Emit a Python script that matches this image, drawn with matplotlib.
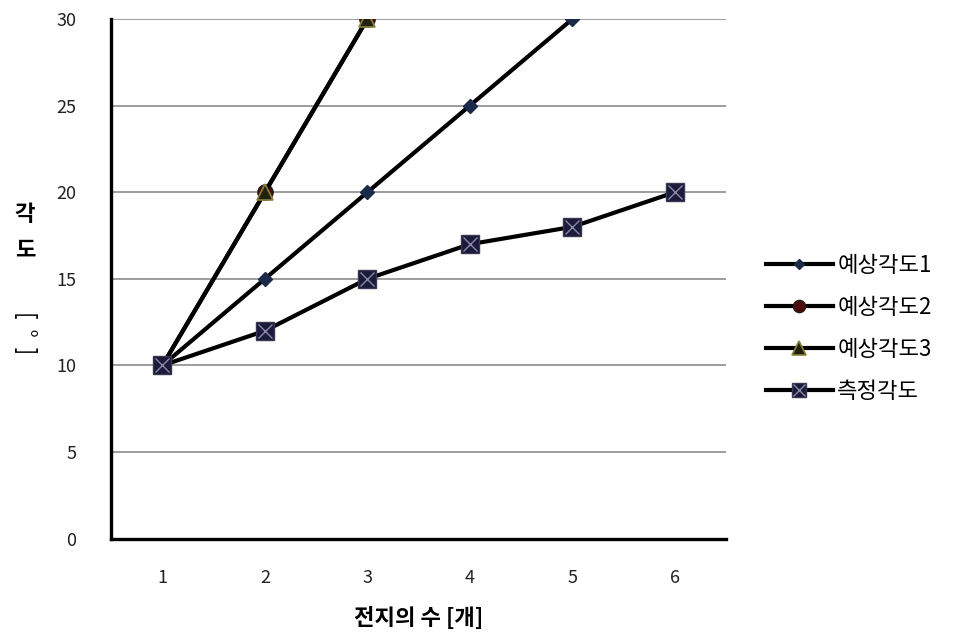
import numpy as np
import matplotlib.pyplot as plt
from matplotlib.legend_handler import HandlerTuple

plt.rcParams['font.family'] = ['Noto Sans CJK KR', 'DejaVu Sans']

# data
cells = [1, 2, 3, 4, 5, 6]
angle1 = [10, 15, 20, 25, 30]
angle2 = [10, 20, 30]
angle3 = [10, 20, 30]
measured = [10, 12, 15, 17, 18, 20]
names = ['예상각도1', '예상각도2', '예상각도3', '측정각도']

fig = plt.figure(figsize=(9.58, 6.33), dpi=100)
ax = fig.add_axes([0.116, 0.149, 0.642, 0.821])

x = np.arange(len(cells))
l1, = ax.plot(x[:len(angle1)], angle1, color='black', lw=3, marker='D', ms=7,
              mfc='#1c2a4a', mec='#1c2a4a', zorder=3)
l2, = ax.plot(x[:len(angle2)], angle2, color='black', lw=3, marker='o', ms=11,
              mfc='#4a0c0c', mec='#2a1a10', zorder=3)
l3, = ax.plot(x[:len(angle3)], angle3, color='black', lw=3, marker='^', ms=12,
              mfc='#22220c', mec='#8a8040', mew=1.2, zorder=4)
l4, = ax.plot(x, measured, color='black', lw=3, marker='s', ms=13,
              mfc='#1c1a3a', mec='#3a3850', zorder=5)
l4x, = ax.plot(x, measured, ls='none', marker='x', ms=10, mec='#8a88a8',
               mew=1, zorder=6)

ax.set_xlim(-0.5, len(cells) - 0.5)
ax.set_ylim(0, 30)
ax.set_yticks(np.arange(0, 31, 5))
ax.set_xticks(x)
ax.set_xticklabels([str(c) for c in cells])
ax.tick_params(axis='both', labelsize=13, length=0, labelcolor='#222222')
ax.tick_params(axis='x', pad=22)
ax.tick_params(axis='y', pad=25)
ax.yaxis.grid(True, color='#8c8c8c', lw=1.2)
ax.set_axisbelow(True)
for s in ['top', 'right']:
    ax.spines[s].set_visible(False)
for s in ['left', 'bottom']:
    ax.spines[s].set_linewidth(2.4)
    ax.spines[s].set_color('black')

ax.set_xlabel('전지의 수 [개]', fontsize=16, fontweight='bold', labelpad=14)

# vertical y label
fig.text(25 / 958, 1 - 215 / 633, '각', fontsize=16, fontweight='bold', ha='center', va='center')
fig.text(25 / 958, 1 - 250 / 633, '도', fontsize=16, fontweight='bold', ha='center', va='center')
fig.text(25 / 958, 1 - 333 / 633, '[  °  ]', fontsize=16, rotation=-90, ha='center', va='center')

ax.legend([l1, l2, l3, (l4, l4x)], names, handler_map={tuple: HandlerTuple(ndivide=1)},
          loc='center left', bbox_to_anchor=(1.0, 0.405), frameon=False, fontsize=16,
          handlelength=3.0, handletextpad=0.2, labelspacing=0.85, borderaxespad=1.4,
          markerscale=0.8)

fig.savefig('out.png', dpi=100)
